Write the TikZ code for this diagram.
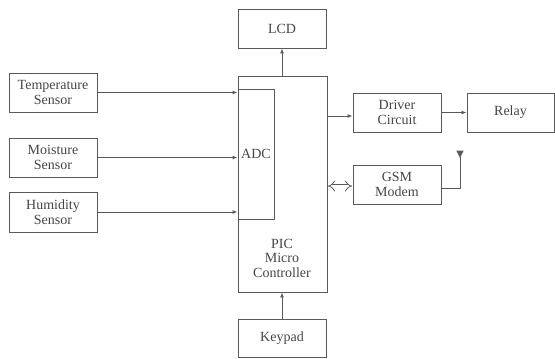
\documentclass[tikz,border=0pt]{standalone}
\usepackage{fontspec}
\setmainfont{Liberation Serif}
\usetikzlibrary{arrows.meta,positioning,calc}
\definecolor{LineGray}{HTML}{5A5A5A}
\definecolor{TextGray}{HTML}{454545}

\begin{document}
\begin{tikzpicture}[
        x=1pt, y=-1pt,
        every node/.style={font=\fontsize{14}{14.5}\selectfont, text=TextGray},
        block/.style = {rectangle, draw=LineGray, line width=0.9pt,
            minimum width=88pt, minimum height=39pt, inner sep=1pt,
            align=center},
        link/.style = {draw=LineGray, line width=0.9pt,
            -{Latex[length=5pt,width=4pt]}},
    ]
    \useasboundingbox (0,0) rectangle (555,359);
    % sensors
    \node[block] (temp)  at (53,92.5)  {Temperature\\Sensor};
    \node[block] (moist) at (53,157.5) {Moisture\\Sensor};
    \node[block, minimum height=40pt] (humid) at (53,212) {Humidity\\Sensor};
    % controller
    \node[block, minimum width=89pt, minimum height=216pt] (pic) at (282.5,184) {};
    \node[block, minimum width=36pt, minimum height=130pt, inner sep=0pt] (adc) at (256,154) {ADC};
    \node[align=center] (pictext) at (282,258) {PIC\\Micro\\Controller};
    % outputs
    \node[block] (lcd)    at (282,28.5)  {LCD};
    \node[block] (driver) at (397,112.5) {Driver\\Circuit};
    \node[block, minimum width=87pt] (relay) at (510.5,112.5) {Relay};
    \node[block] (gsm)    at (397,184.5) {GSM\\Modem};
    \node[block, minimum height=38pt] (keypad) at (282,338) {Keypad};
    % connectors
    \foreach \s in {temp,moist,humid}
        \draw[link] (\s.east) -- (adc.west |- \s.east);
    \draw[link] (pic.north -| lcd.south) -- (lcd.south);
    \draw[link] (pic.east |- 0,116) -- (driver.west |- 0,116);
    \draw[link] (driver.east) -- (relay.west);
    \draw[link] (keypad.north) -- (keypad.north |- pic.south);
    \draw[LineGray, line width=0.8pt, double=white, double distance=3pt,
        {Implies[length=5pt]}-{Implies[length=5pt]}]
        ($(pic.east |- gsm.west)+(0.5,1.5)$) -- ($(gsm.west)+(-0.5,1.5)$);
    % antenna
    \coordinate (ant) at (460,157);
    \draw[LineGray, line width=0.9pt] (gsm.east |- 0,188) -| (ant);
    \draw[LineGray, line width=0.8pt, fill=LineGray]
        (ant) -- ++(-3,-6) -- ++(6,0) -- cycle;
\end{tikzpicture}
\end{document}
